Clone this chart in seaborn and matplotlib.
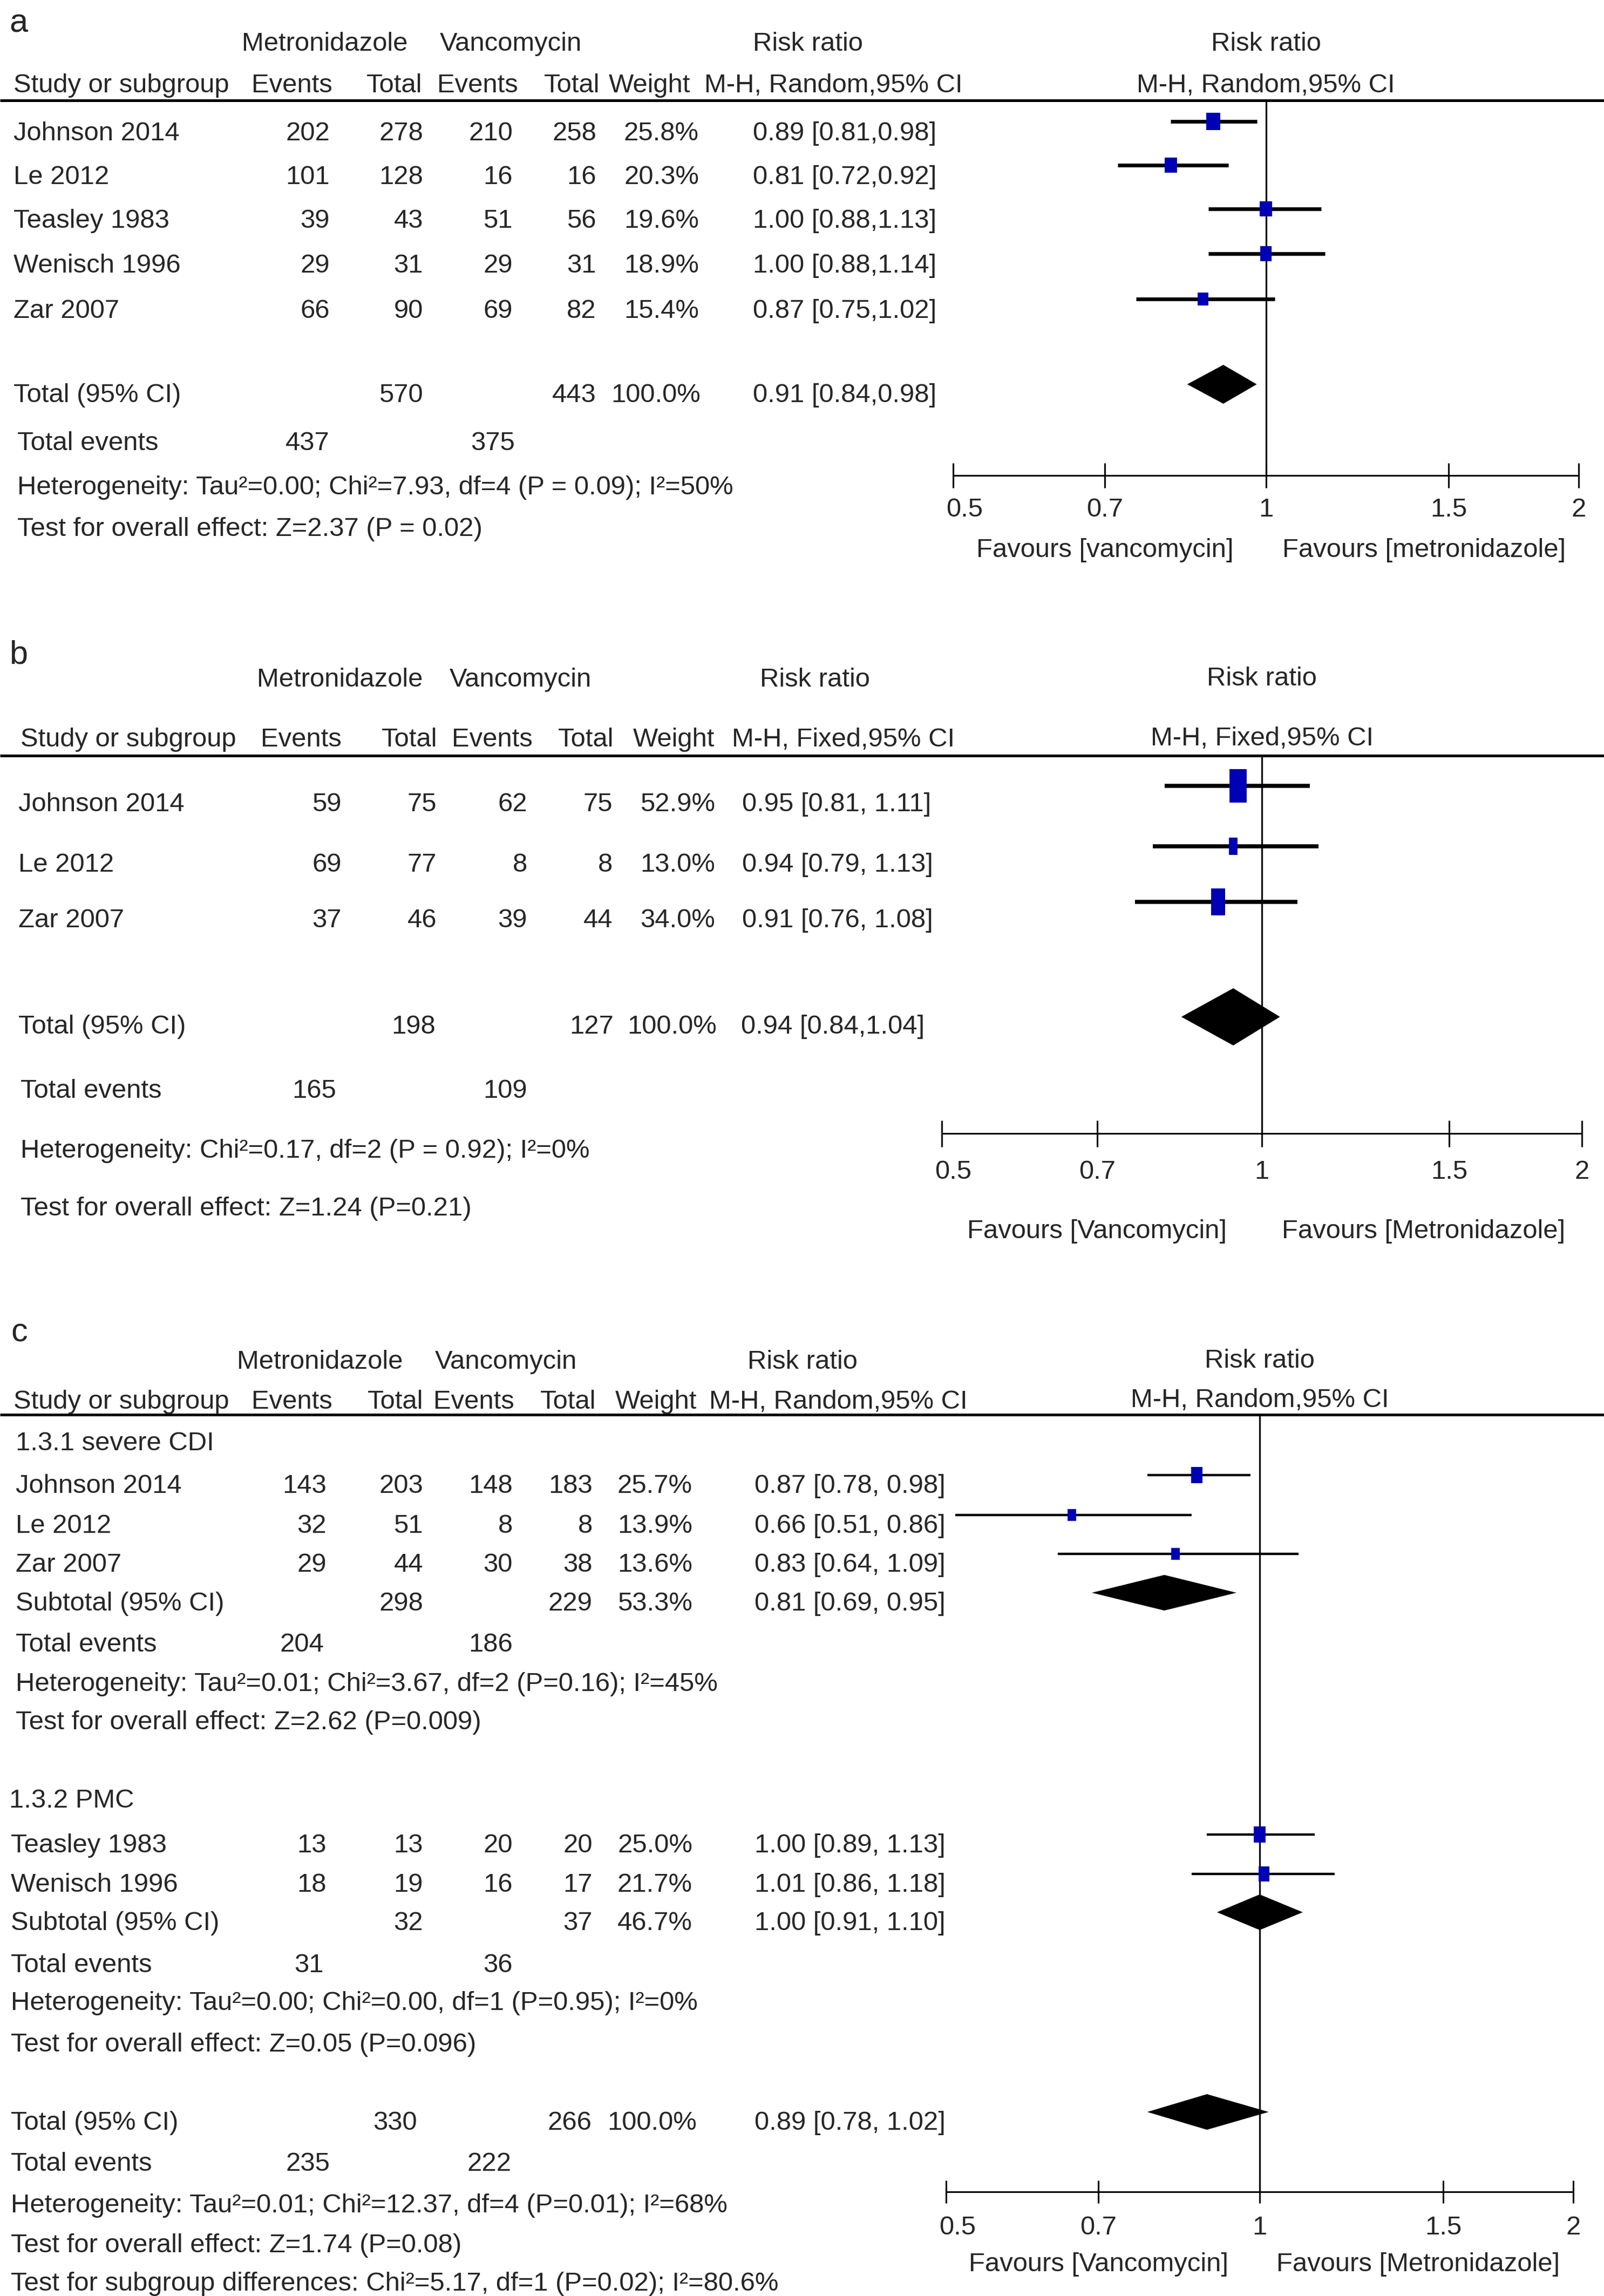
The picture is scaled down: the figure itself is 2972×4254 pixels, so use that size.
import matplotlib
matplotlib.use("Agg")
import matplotlib.pyplot as plt
from matplotlib.ticker import NullLocator
import numpy as np
import seaborn as sns

# ---------------- data: panel a (random effects, all studies)
a_studies = ["Johnson 2014", "Le 2012", "Teasley 1983", "Wenisch 1996", "Zar 2007"]
a_met_events = [202, 101, 39, 29, 66]
a_met_total = [278, 128, 43, 31, 90]
a_van_events = [210, 16, 51, 29, 69]
a_van_total = [258, 16, 56, 31, 82]
a_weight = [25.8, 20.3, 19.6, 18.9, 15.4]
a_rr = [0.89, 0.81, 1.00, 1.00, 0.87]
a_lo = [0.81, 0.72, 0.88, 0.88, 0.75]
a_hi = [0.98, 0.92, 1.13, 1.14, 1.02]
a_tot_n = [570, 443]
a_tot_events = [437, 375]
a_tot_rr = [0.91, 0.84, 0.98]
a_het = "Heterogeneity: Tau²=0.00; Chi²=7.93, df=4 (P = 0.09); I²=50%"
a_test = "Test for overall effect: Z=2.37 (P = 0.02)"

# ---------------- data: panel b (fixed effects)
b_studies = ["Johnson 2014", "Le 2012", "Zar 2007"]
b_met_events = [59, 69, 37]
b_met_total = [75, 77, 46]
b_van_events = [62, 8, 39]
b_van_total = [75, 8, 44]
b_weight = [52.9, 13.0, 34.0]
b_rr = [0.95, 0.94, 0.91]
b_lo = [0.81, 0.79, 0.76]
b_hi = [1.11, 1.13, 1.08]
b_tot_n = [198, 127]
b_tot_events = [165, 109]
b_tot_rr = [0.94, 0.84, 1.04]
b_het = "Heterogeneity: Chi²=0.17, df=2 (P = 0.92); I²=0%"
b_test = "Test for overall effect: Z=1.24 (P=0.21)"

# ---------------- data: panel c (subgroups)
c_groups = ["1.3.1 severe CDI", "1.3.2 PMC"]
c_studies = [["Johnson 2014", "Le 2012", "Zar 2007"], ["Teasley 1983", "Wenisch 1996"]]
c_met_events = [[143, 32, 29], [13, 18]]
c_met_total = [[203, 51, 44], [13, 19]]
c_van_events = [[148, 8, 30], [20, 16]]
c_van_total = [[183, 8, 38], [20, 17]]
c_weight = [[25.7, 13.9, 13.6], [25.0, 21.7]]
c_rr = [[0.87, 0.66, 0.83], [1.00, 1.01]]
c_lo = [[0.78, 0.51, 0.64], [0.89, 0.86]]
c_hi = [[0.98, 0.86, 1.09], [1.13, 1.18]]
c_sub_n = [[298, 229], [32, 37]]
c_sub_weight = [53.3, 46.7]
c_sub_rr = [[0.81, 0.69, 0.95], [1.00, 0.91, 1.10]]
c_sub_events = [[204, 186], [31, 36]]
c_sub_het = ["Heterogeneity: Tau²=0.01; Chi²=3.67, df=2 (P=0.16); I²=45%",
             "Heterogeneity: Tau²=0.00; Chi²=0.00, df=1 (P=0.95); I²=0%"]
c_sub_test = ["Test for overall effect: Z=2.62 (P=0.009)",
              "Test for overall effect: Z=0.05 (P=0.096)"]
c_tot_n = [330, 266]
c_tot_events = [235, 222]
c_tot_rr = [0.89, 0.78, 1.02]
c_het = "Heterogeneity: Tau²=0.01; Chi²=12.37, df=4 (P=0.01); I²=68%"
c_test = "Test for overall effect: Z=1.74 (P=0.08)"
c_subdiff = "Test for subgroup differences: Chi²=5.17, df=1 (P=0.02); I²=80.6%"

ticks = [0.5, 0.7, 1, 1.5, 2]
tick_labels = ["0.5", "0.7", "1", "1.5", "2"]

W, H = 2972, 4254
BLUE = "#0000b4"
FS = 35.3

sns.set_style("white")
plt.rcParams['font.family'] = ['Liberation Sans', 'DejaVu Sans']

fig = plt.figure(figsize=(W / 100, H / 100), dpi=100)
bg = fig.add_axes([0, 0, 1, 1])
bg.set_xlim(0, W)
bg.set_ylim(H, 0)
bg.axis('off')


def txt(x, y, s, ha='left', size=FS):
    bg.text(x, y, s, ha=ha, va='baseline', fontsize=size)


def ci_str(r, lo, hi, sep=', '):
    return f"{r:.2f} [{lo:.2f}{sep}{hi:.2f}]"


def header(y1, y2, cols, label, method, label_xy):
    txt(label_xy[0], label_xy[1], label, size=FS * 1.25)
    txt(cols['met_h'], y1, "Metronidazole", 'center')
    txt(cols['van_h'], y1, "Vancomycin", 'center')
    txt(cols['rr_h'], y1, "Risk ratio", 'center')
    txt(cols['study_h'], y2, "Study or subgroup")
    txt(cols['ev1_h'], y2, "Events", 'right')
    txt(cols['tot1_h'], y2, "Total", 'right')
    txt(cols['ev2_h'], y2, "Events", 'right')
    txt(cols['tot2_h'], y2, "Total", 'right')
    txt(cols['wt_h'], y2, "Weight")
    txt(cols['mh_h'], y2, method)


def forest_axes(x0, x1, y0, y1, ticklen, method, hy1, hy2, lab_y, fav_y, fav_names):
    ax = fig.add_axes([x0 / W, 1 - y1 / H, (x1 - x0) / W, (y1 - y0) / H])
    ax.set_xscale('log')
    ax.set_xlim(0.5, 2)
    ax.set_ylim(y1, y0)
    ax.patch.set_visible(False)
    for sp in ['top', 'left', 'right']:
        ax.spines[sp].set_visible(False)
    ax.spines['bottom'].set_linewidth(2.2)
    ax.spines['bottom'].set_color('black')
    ax.set_xticks(ticks)
    ax.xaxis.set_minor_locator(NullLocator())
    ax.tick_params(axis='x', which='major', bottom=True, direction='inout',
                   length=ticklen * 0.72, width=2.2, color='black', labelbottom=False)
    ax.set_yticks([])
    ax.axvline(1, color='black', lw=2.3, zorder=1)
    for t, lab in zip(ticks, tick_labels):
        xt = t * 1.025 if t == 0.5 else t
        ax.text(xt, lab_y, lab, ha='center', va='baseline', fontsize=FS)
    ax.text(0.70, fav_y, f"Favours [{fav_names[0]}]", ha='center', va='baseline', fontsize=FS)
    ax.text(1.42, fav_y, f"Favours [{fav_names[1]}]", ha='center', va='baseline', fontsize=FS)
    ax.text(1.0, hy1, "Risk ratio", ha='center', va='baseline', fontsize=FS)
    ax.text(1.0, hy2, method, ha='center', va='baseline', fontsize=FS)
    return ax


def boxes(ax, rr, lo, hi, ys, weights, k, aspect, lw):
    ax.hlines(ys, lo, hi, color='black', lw=lw, zorder=2)
    verts = [(-aspect, -1), (aspect, -1), (aspect, 1), (-aspect, 1), (-aspect, -1)]
    s = [(k * np.sqrt(w) * 0.72) ** 2 for w in weights]
    sns.scatterplot(x=rr, y=ys, s=s, marker=verts, color=BLUE, linewidth=0,
                    legend=False, ax=ax, zorder=3)
    ax.set_xlabel("")
    ax.set_ylabel("")


def diamond(ax, r, lo, hi, y, h):
    ax.fill([lo, r, hi, r], [y, y - h / 2, y, y + h / 2], color='black', lw=0, zorder=3)


# ================= panel a
cols_a = dict(met_h=602, van_h=946, rr_h=1497, study_h=25, ev1_h=616, tot1_h=782,
              ev2_h=960, tot2_h=1111, wt_h=1128, mh_h=1305)
header(94, 171, cols_a, "a", "M-H, Random,95% CI", (17, 60))
bg.hlines(186, 0, W, color='black', lw=3.6)
a_rows = [260, 341, 422, 505, 589]
for i, y in enumerate(a_rows):
    txt(25, y, a_studies[i])
    txt(611, y, str(a_met_events[i]), 'right')
    txt(784, y, str(a_met_total[i]), 'right')
    txt(950, y, str(a_van_events[i]), 'right')
    txt(1105, y, str(a_van_total[i]), 'right')
    txt(1295, y, f"{a_weight[i]:.1f}%", 'right')
    txt(1395, y, ci_str(a_rr[i], a_lo[i], a_hi[i], ','))
txt(25, 745, "Total (95% CI)")
txt(784, 745, str(a_tot_n[0]), 'right')
txt(1105, 745, str(a_tot_n[1]), 'right')
txt(1298, 745, "100.0%", 'right')
txt(1395, 745, ci_str(*a_tot_rr, ','))
txt(32, 834, "Total events")
txt(611, 834, str(a_tot_events[0]), 'right')
txt(954, 834, str(a_tot_events[1]), 'right')
txt(32, 916, a_het)
txt(32, 993, a_test)

fa = forest_axes(1766, 2925, 188, 881, 46, "M-H, Random,95% CI", 94, 171, 957, 1032,
                 ("vancomycin", "metronidazole"))
boxes(fa, a_rr, a_lo, a_hi, [y - 35 for y in a_rows], a_weight, 6.3, 0.8, 5.0)
diamond(fa, a_tot_rr[0], a_tot_rr[1], a_tot_rr[2], 745 - 33, 72)

# ================= panel b
cols_b = dict(met_h=630, van_h=964, rr_h=1510, study_h=38, ev1_h=633, tot1_h=810,
              ev2_h=987, tot2_h=1137, wt_h=1173, mh_h=1356)
header(1272, 1383, cols_b, "b", "M-H, Fixed,95% CI", (17, 1230))
bg.hlines(1400, 0, W, color='black', lw=3.6)
b_rows = [1503, 1615, 1718]
for i, y in enumerate(b_rows):
    txt(34, y, b_studies[i])
    txt(633, y, str(b_met_events[i]), 'right')
    txt(809, y, str(b_met_total[i]), 'right')
    txt(977, y, str(b_van_events[i]), 'right')
    txt(1135, y, str(b_van_total[i]), 'right')
    txt(1325, y, f"{b_weight[i]:.1f}%", 'right')
    txt(1375, y, ci_str(b_rr[i], b_lo[i], b_hi[i], ', '))
txt(34, 1915, "Total (95% CI)")
txt(807, 1915, str(b_tot_n[0]), 'right')
txt(1137, 1915, str(b_tot_n[1]), 'right')
txt(1328, 1915, "100.0%", 'right')
txt(1373, 1915, ci_str(*b_tot_rr, ','))
txt(38, 2034, "Total events")
txt(623, 2034, str(b_tot_events[0]), 'right')
txt(977, 2034, str(b_tot_events[1]), 'right')
txt(38, 2145, b_het)
txt(38, 2252, b_test)

fb = forest_axes(1745, 2931, 1400, 2100, 49, "M-H, Fixed,95% CI", 1270, 1381, 2184, 2294,
                 ("Vancomycin", "Metronidazole"))
boxes(fb, b_rr, b_lo, b_hi, [y - 47 for y in b_rows], b_weight, 8.6, 0.52, 5.4)
diamond(fb, b_tot_rr[0], b_tot_rr[1], b_tot_rr[2], 1915 - 31, 106)

# ================= panel c
cols_c = dict(met_h=593, van_h=937, rr_h=1487, study_h=25, ev1_h=616, tot1_h=784,
              ev2_h=953, tot2_h=1104, wt_h=1140, mh_h=1314)
header(2536, 2610, cols_c, "c", "M-H, Random,95% CI", (20, 2485))
bg.hlines(2621, 0, W, color='black', lw=3.6)
fc = forest_axes(1753, 2915, 2621, 4061, 43, "M-H, Random,95% CI", 2534, 2607, 4140, 4208,
                 ("Vancomycin", "Metronidazole"))

c_group_y = [2687, 3349]
c_group_x = [29, 17]
c_rows = [[2766, 2840, 2912], [3432, 3505]]
c_name_x = [29, 20]
c_sub_y = [2984, 3576]
c_ev_y = [3060, 3654]
c_het_y = [3133, 3724]
c_test_y = [3204, 3801]
for g in range(2):
    txt(c_group_x[g], c_group_y[g], c_groups[g])
    for i, y in enumerate(c_rows[g]):
        txt(c_name_x[g], y, c_studies[g][i])
        txt(605, y, str(c_met_events[g][i]), 'right')
        txt(784, y, str(c_met_total[g][i]), 'right')
        txt(950, y, str(c_van_events[g][i]), 'right')
        txt(1098, y, str(c_van_total[g][i]), 'right')
        txt(1283, y, f"{c_weight[g][i]:.1f}%", 'right')
        txt(1398, y, ci_str(c_rr[g][i], c_lo[g][i], c_hi[g][i], ', '))
    y = c_sub_y[g]
    txt(c_name_x[g], y, "Subtotal (95% CI)")
    txt(784, y, str(c_sub_n[g][0]), 'right')
    txt(1098, y, str(c_sub_n[g][1]), 'right')
    txt(1283, y, f"{c_sub_weight[g]:.1f}%", 'right')
    txt(1398, y, ci_str(*c_sub_rr[g], ', '))
    txt(c_name_x[g], c_ev_y[g], "Total events")
    txt(600, c_ev_y[g], str(c_sub_events[g][0]), 'right')
    txt(950, c_ev_y[g], str(c_sub_events[g][1]), 'right')
    txt(c_name_x[g], c_het_y[g], c_sub_het[g])
    txt(c_name_x[g], c_test_y[g], c_sub_test[g])
    boxes(fc, c_rr[g], c_lo[g], c_hi[g], [v - 33 for v in c_rows[g]], c_weight[g], 5.9, 0.72, 3.2)
    diamond(fc, c_sub_rr[g][0], c_sub_rr[g][1], c_sub_rr[g][2], c_sub_y[g] - 33, 66)

txt(20, 3946, "Total (95% CI)")
txt(773, 3946, str(c_tot_n[0]), 'right')
txt(1096, 3946, str(c_tot_n[1]), 'right')
txt(1291, 3946, "100.0%", 'right')
txt(1398, 3946, ci_str(*c_tot_rr, ', '))
txt(20, 4022, "Total events")
txt(611, 4022, str(c_tot_events[0]), 'right')
txt(948, 4022, str(c_tot_events[1]), 'right')
txt(20, 4099, c_het)
txt(20, 4173, c_test)
txt(20, 4244, c_subdiff)
diamond(fc, c_tot_rr[0], c_tot_rr[1], c_tot_rr[2], 3946 - 33, 66)

fig.savefig("out.png", dpi=100, facecolor="white")
